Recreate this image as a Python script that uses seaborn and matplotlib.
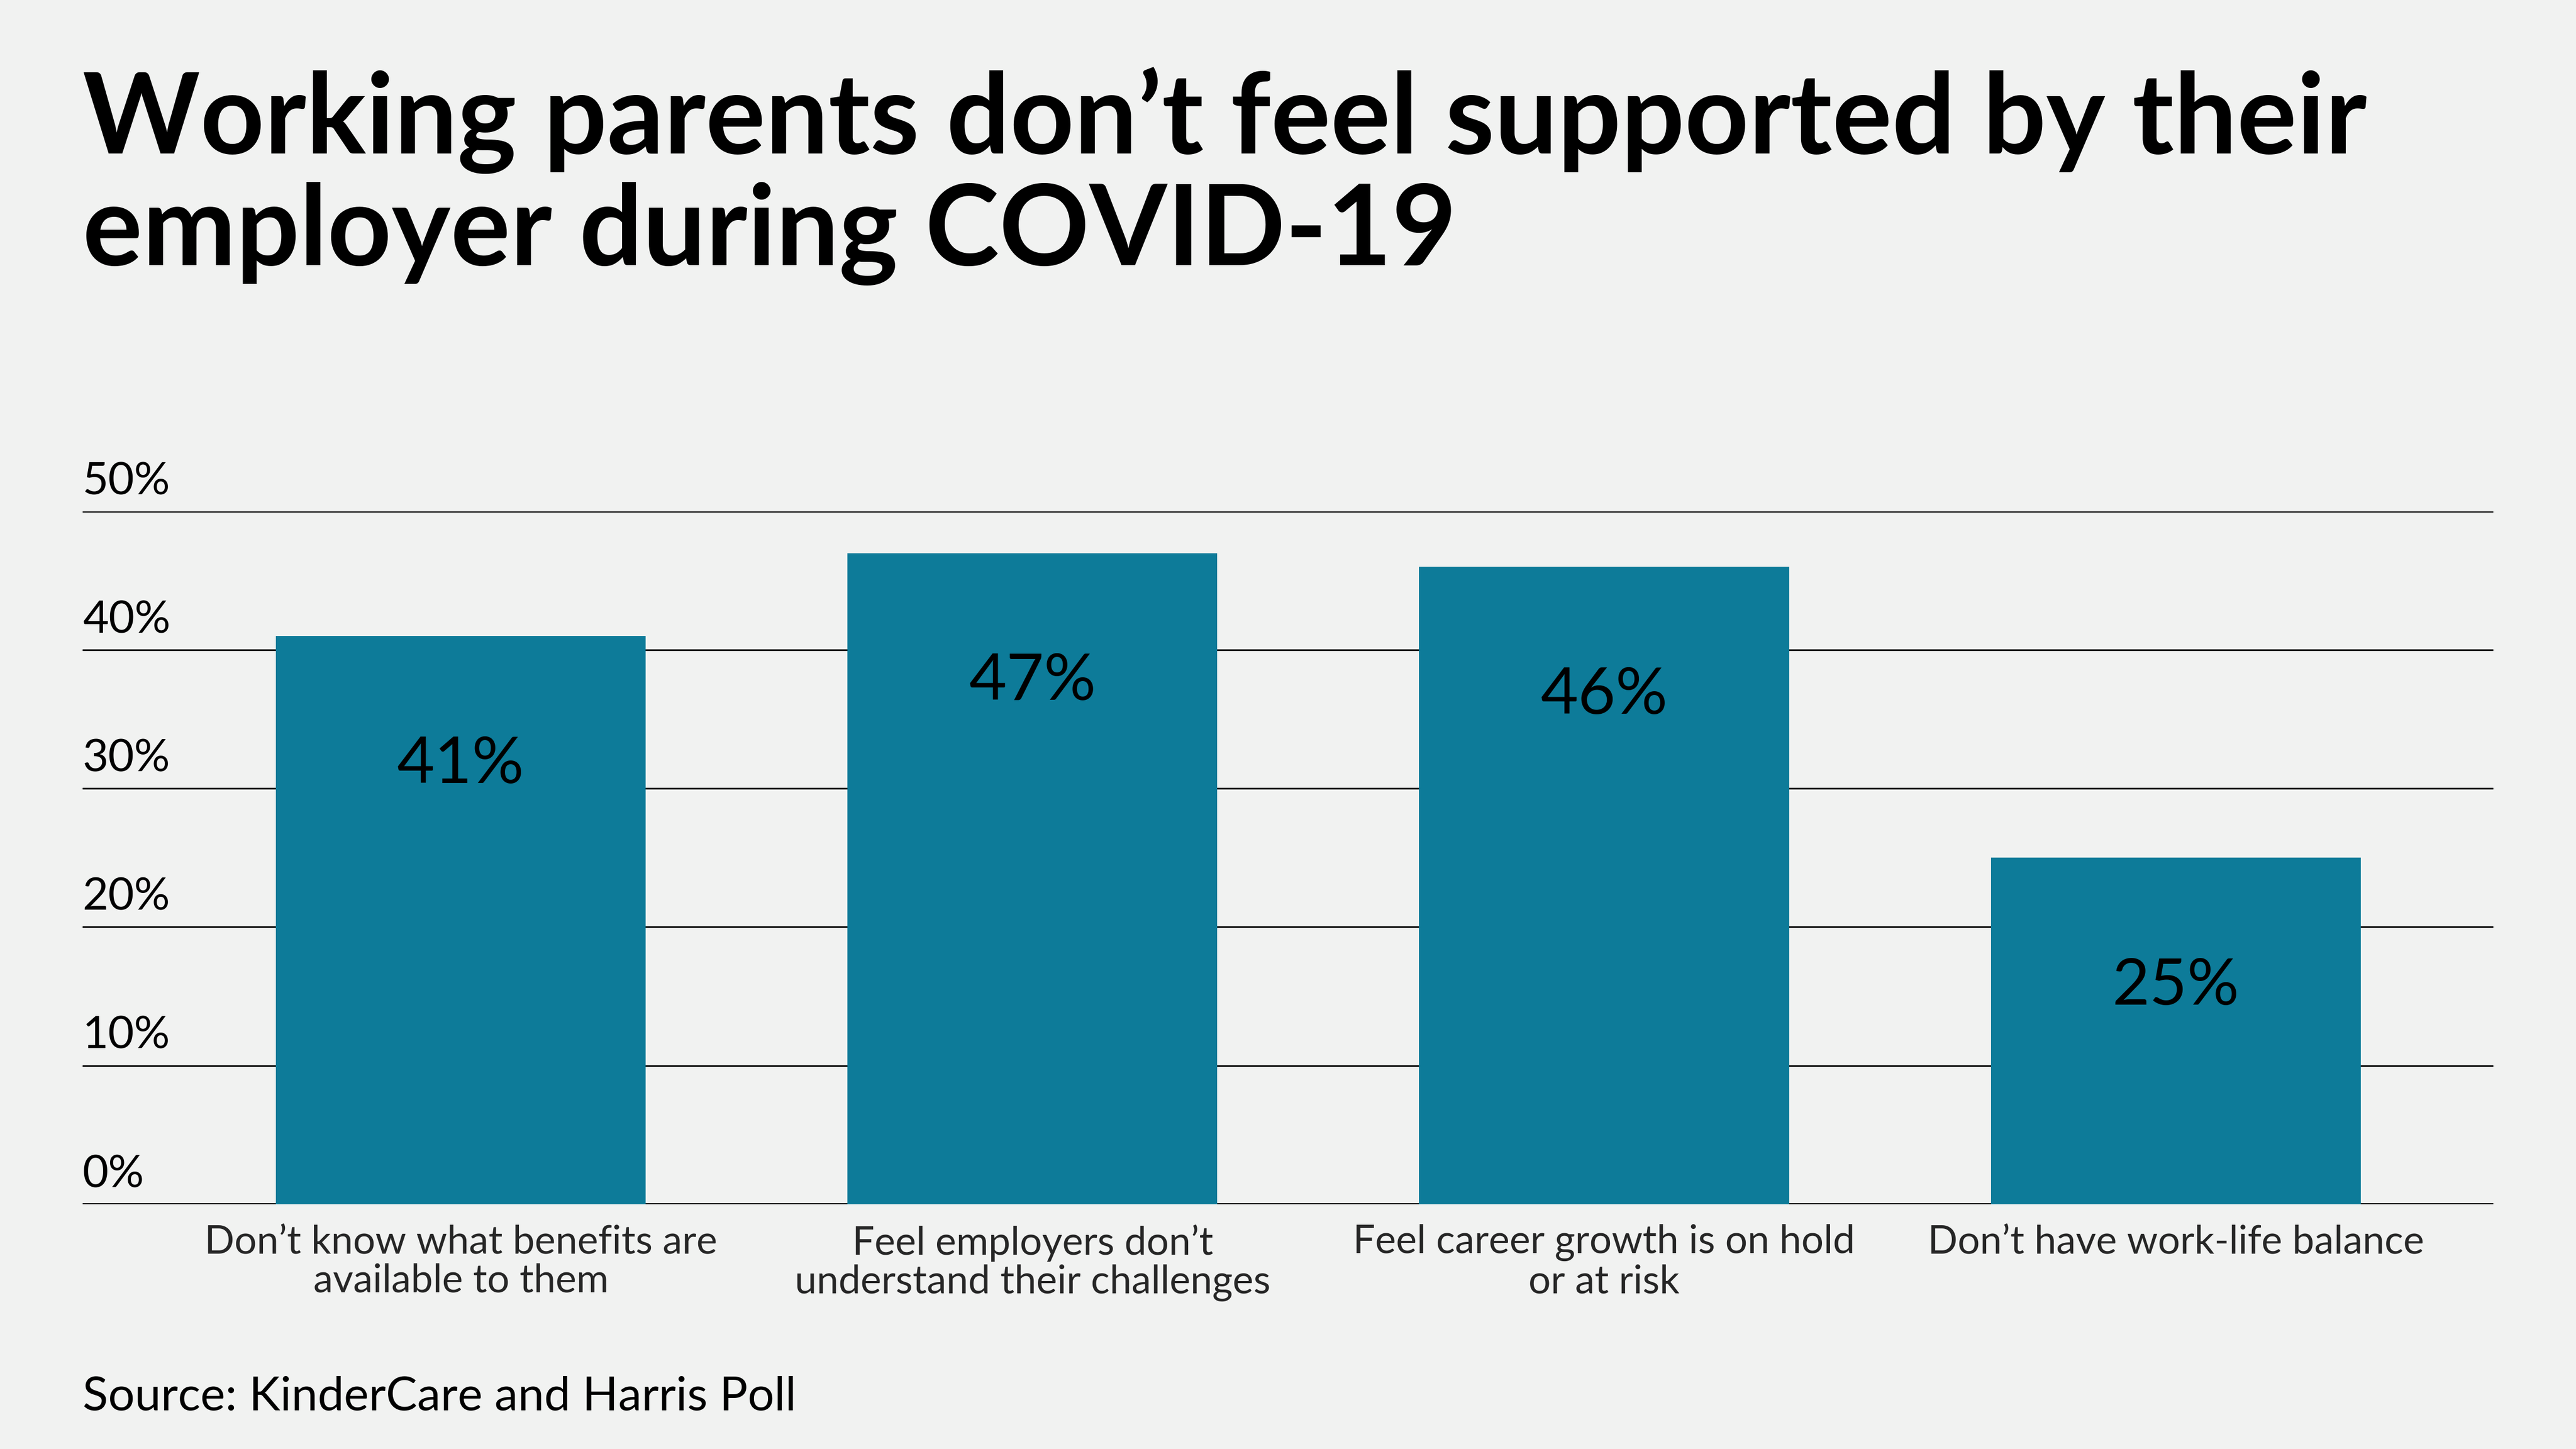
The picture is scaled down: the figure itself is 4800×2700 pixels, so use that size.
import matplotlib
matplotlib.use("Agg")
import matplotlib.pyplot as plt
import seaborn as sns
import pandas as pd

categories = [
    "Don\u2019t know what benefits are\navailable to them",
    "Feel employers don\u2019t\nunderstand their challenges",
    "Feel career growth is on hold\nor at risk",
    "Don\u2019t have work-life balance",
]
values = [41, 47, 46, 25]
y_ticks = [0, 10, 20, 30, 40, 50]
y_tick_labels = ["0%", "10%", "20%", "30%", "40%", "50%"]

title = "Working parents don\u2019t feel supported by their\nemployer during COVID-19"
source = "Source: KinderCare and Harris Poll"

BG = "#F1F2F1"
BAR = "#0D7B99"

sns.set_theme(style="white")
plt.rcParams["font.family"] = ["Lato", "DejaVu Sans"]

df = pd.DataFrame({"cat": categories, "val": values})

fig = plt.figure(figsize=(16, 9), dpi=300, facecolor=BG)
ax = fig.add_axes([0.032, 0.169, 0.936, 0.478])
ax.set_facecolor(BG)

# gridlines
for t in y_ticks:
    ax.axhline(t, color="black", lw=0.75 if t else 1.0, zorder=0)

sns.barplot(data=df, x="cat", y="val", color=BAR, saturation=1, width=0.647,
            linewidth=0, edgecolor="none", ax=ax, zorder=2)

ax.set_xlim(-0.662, 3.556)
ax.set_ylim(0, 50)

for i, v in enumerate(values):
    ax.text(i, v - 9.3, f"{v}%", ha="center", va="center", fontsize=29,
            color="black", zorder=3)

ax.set_yticks([])
ax.set_xticks(range(len(categories)))
ax.set_xticklabels(categories, fontsize=17.6, linespacing=1.1)
ax.tick_params(axis="x", length=0, pad=9)
ax.set_xlabel("")
ax.set_ylabel("")
for s in ax.spines.values():
    s.set_visible(False)

for t, lab in zip(y_ticks, y_tick_labels):
    ax.annotate(lab, xy=(0, t), xycoords=("axes fraction", "data"),
                xytext=(0, 4), textcoords="offset points",
                ha="left", va="bottom", fontsize=20, color="black")

fig.text(0.032, 0.954, title, ha="left", va="top", fontsize=50,
         fontweight="bold", color="black", linespacing=1.1)
fig.text(0.032, 0.027, source, ha="left", va="baseline", fontsize=21,
         color="black")

fig.savefig("out.png", dpi=300, facecolor=BG)
